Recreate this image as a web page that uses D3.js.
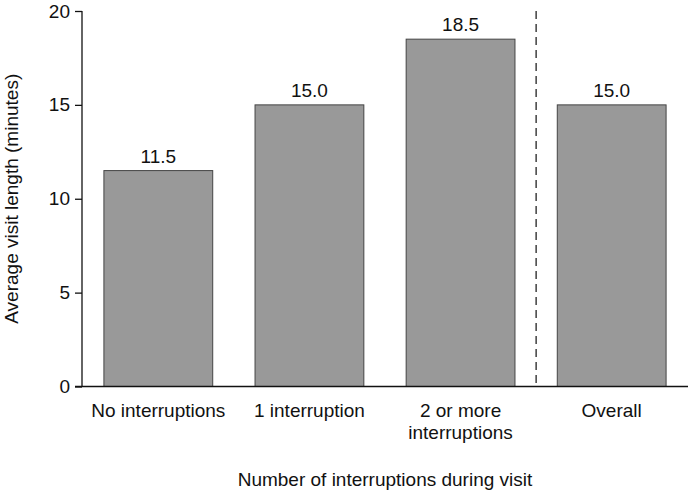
<!DOCTYPE html>
<html>
<head>
<meta charset="utf-8">
<script src="https://cdn.jsdelivr.net/npm/d3@7"></script>
<style>
  body { margin: 0; background: #fff; }
  svg { display: block; font-family: 'Liberation Sans', Arial, Helvetica, sans-serif; }
</style>
</head>
<body>
<div id="chart"></div>
<script>
// Data
const categories = ['No interruptions', '1 interruption', '2 or more\ninterruptions', 'Overall'];
const values = [11.5, 15.0, 18.5, 15.0];
const yTicks = [0, 5, 10, 15, 20];

const width = 690;
const height = 493;
const margin = { t: 11, r: 2, b: 106.5, l: 82 };
const fontSize = 19;

const svg = d3
  .select('#chart')
  .append('svg')
  .attr('width', width)
  .attr('height', height);

const x = d3
  .scaleBand()
  .domain(categories)
  .range([margin.l, width - margin.r])
  .paddingInner(0.28)
  .paddingOuter(0.145);

const y = d3.scaleLinear().domain([0, 20]).range([height - margin.b, margin.t]);

// bars
svg
  .selectAll('rect.bar')
  .data(values)
  .join('rect')
  .attr('class', 'bar')
  .attr('x', (d, i) => x(categories[i]))
  .attr('y', (d) => y(d))
  .attr('width', x.bandwidth())
  .attr('height', (d) => y(0) - y(d))
  .attr('fill', '#999999')
  .attr('stroke', '#444')
  .attr('stroke-width', 1);

// value labels
svg
  .selectAll('text.val')
  .data(values)
  .join('text')
  .attr('class', 'val')
  .attr('x', (d, i) => x(categories[i]) + x.bandwidth() / 2)
  .attr('y', (d) => y(d) - 8)
  .attr('text-anchor', 'middle')
  .attr('font-size', fontSize)
  .attr('fill', '#111')
  .text((d) => d.toFixed(1));

// dashed separator between group 3 and Overall
const sepX = (x(categories[2]) + x.bandwidth() + x(categories[3])) / 2;
svg
  .append('line')
  .attr('x1', sepX)
  .attr('x2', sepX)
  .attr('y1', y(20))
  .attr('y2', y(0))
  .attr('stroke', '#222')
  .attr('stroke-width', 1.3)
  .attr('stroke-dasharray', '8,5');

// y axis
const yAxis = svg
  .append('g')
  .attr('transform', `translate(${margin.l},0)`)
  .call(d3.axisLeft(y).tickValues(yTicks).tickSize(7).tickPadding(5));
yAxis.select('.domain').attr('d', `M0,${y(20)}V${y(0)}`).attr('stroke', '#111').attr('stroke-width', 1.3);
yAxis.selectAll('.tick line').attr('stroke', '#111').attr('stroke-width', 1.3);
yAxis.selectAll('.tick text').attr('font-size', fontSize).attr('fill', '#111').attr('font-family', null);

// x axis line (extends left like a tick)
svg
  .append('line')
  .attr('x1', margin.l - 7)
  .attr('x2', width - margin.r)
  .attr('y1', y(0))
  .attr('y2', y(0))
  .attr('stroke', '#111')
  .attr('stroke-width', 1.3);

// category labels
svg
  .selectAll('text.cat')
  .data(categories)
  .join('text')
  .attr('class', 'cat')
  .attr('x', (d) => x(d) + x.bandwidth() / 2)
  .attr('y', y(0) + 30)
  .attr('text-anchor', 'middle')
  .attr('font-size', fontSize)
  .attr('fill', '#111')
  .each(function (d) {
    d.split('\n').forEach((line, i) => {
      d3.select(this)
        .append('tspan')
        .attr('x', x(d) + x.bandwidth() / 2)
        .attr('dy', i === 0 ? 0 : 22)
        .text(line);
    });
  });

// axis titles
svg
  .append('text')
  .attr('x', (margin.l + width - margin.r) / 2)
  .attr('y', 486)
  .attr('text-anchor', 'middle')
  .attr('font-size', fontSize)
  .attr('fill', '#111')
  .text('Number of interruptions during visit');

svg
  .append('text')
  .attr('transform', `translate(18,${(y(0) + y(20)) / 2}) rotate(-90)`)
  .attr('text-anchor', 'middle')
  .attr('font-size', fontSize)
  .attr('fill', '#111')
  .text('Average visit length (minutes)');
</script>
</body>
</html>
